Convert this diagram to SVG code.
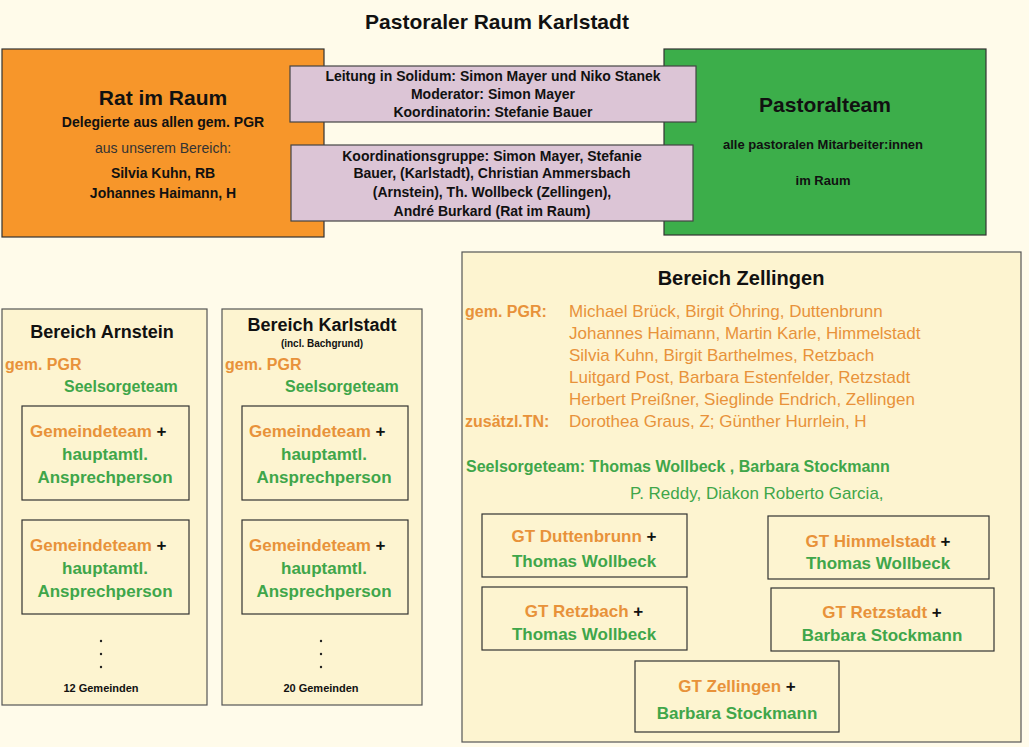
<svg xmlns="http://www.w3.org/2000/svg" width="1029" height="747" viewBox="0 0 1029 747">
<style>
text{font-family:"Liberation Sans",Arial,sans-serif;}
.b{font-weight:bold}
.o{fill:#e8923a}
.g{fill:#3fa64a}
.k{fill:#111}
.box{stroke:#333;stroke-width:1.2}
.pink{fill:#dcc5d6;stroke:#444;stroke-width:1.2}
.cream{fill:#fdf4d0;stroke:#555;stroke-width:1.2}
.in{fill:#fdf4d0;stroke:#333;stroke-width:1.2}
.dot{fill:#222}
</style>
<rect width="1029" height="747" fill="#fffbea"/>
<text x="497" y="29" text-anchor="middle" font-size="21" class="b k">Pastoraler Raum Karlstadt</text>
<g id="rat">
<rect x="2" y="49" width="322" height="188" fill="#f7962a" class="box"/>
<text x="163" y="105" text-anchor="middle" font-size="21" class="b k">Rat im Raum</text>
<text x="163" y="127" text-anchor="middle" font-size="14" class="b k">Delegierte aus allen gem. PGR</text>
<text x="163" y="153" text-anchor="middle" font-size="14" fill="#333">aus unserem Bereich:</text>
<text x="163" y="178" text-anchor="middle" font-size="14" class="b k">Silvia Kuhn, RB</text>
<text x="163" y="198" text-anchor="middle" font-size="14" class="b k">Johannes Haimann, H</text>
</g>
<g id="pastoralteam">
<rect x="664" y="49" width="322" height="186" fill="#3cae4a" class="box"/>
<text x="825" y="112" text-anchor="middle" font-size="21" class="b k">Pastoralteam</text>
<text x="823" y="149" text-anchor="middle" font-size="13" class="b k">alle pastoralen Mitarbeiter:innen</text>
<text x="823" y="185" text-anchor="middle" font-size="13" class="b k">im Raum</text>
</g>
<g id="leitung">
<rect x="290" y="66" width="406" height="56" class="pink"/>
<text x="493" y="81" text-anchor="middle" font-size="14" class="b k">Leitung in Solidum: Simon Mayer und Niko Stanek</text>
<text x="493" y="99" text-anchor="middle" font-size="14" class="b k">Moderator: Simon Mayer</text>
<text x="493" y="117" text-anchor="middle" font-size="14" class="b k">Koordinatorin:  Stefanie Bauer</text>
</g>
<g id="koordination">
<rect x="291" y="145" width="402" height="76" class="pink"/>
<text x="492" y="161" text-anchor="middle" font-size="14" class="b k">Koordinationsgruppe: Simon Mayer, Stefanie</text>
<text x="492" y="178" text-anchor="middle" font-size="14" class="b k">Bauer, (Karlstadt), Christian Ammersbach</text>
<text x="492" y="197" text-anchor="middle" font-size="14" class="b k">(Arnstein),  Th. Wollbeck (Zellingen),</text>
<text x="492" y="216" text-anchor="middle" font-size="14" class="b k">André Burkard (Rat im Raum)</text>
</g>
<g id="arnstein">
<rect x="2" y="309" width="205" height="396" class="cream"/>
<text x="102" y="338" text-anchor="middle" font-size="18" class="b k">Bereich Arnstein</text>
<text x="5" y="370" font-size="16" class="b o">gem. PGR</text>
<text x="64" y="392" font-size="16" class="b g">Seelsorgeteam</text>
<rect x="22" y="406" width="167" height="94" class="in"/>
<text x="30" y="437" font-size="17" class="b"><tspan class="o">Gemeindeteam</tspan><tspan class="k"> +</tspan></text>
<text x="105" y="460" text-anchor="middle" font-size="17" class="b g">hauptamtl.</text>
<text x="105" y="483" text-anchor="middle" font-size="17" class="b g">Ansprechperson</text>
<rect x="22" y="520" width="167" height="94" class="in"/>
<text x="30" y="551" font-size="17" class="b"><tspan class="o">Gemeindeteam</tspan><tspan class="k"> +</tspan></text>
<text x="105" y="574" text-anchor="middle" font-size="17" class="b g">hauptamtl.</text>
<text x="105" y="597" text-anchor="middle" font-size="17" class="b g">Ansprechperson</text>
<circle cx="101" cy="641" r="1.2" class="dot"/>
<circle cx="101" cy="654" r="1.2" class="dot"/>
<circle cx="101" cy="667" r="1.2" class="dot"/>
<text x="101" y="692" text-anchor="middle" font-size="11" class="b k">12 Gemeinden</text>
</g>
<g id="karlstadt">
<rect x="222" y="309" width="200" height="396" class="cream"/>
<text x="322" y="331" text-anchor="middle" font-size="18" class="b k">Bereich Karlstadt</text>
<text x="322" y="347" text-anchor="middle" font-size="10" class="b k">(incl. Bachgrund)</text>
<text x="225" y="370" font-size="16" class="b o">gem. PGR</text>
<text x="285" y="392" font-size="16" class="b g">Seelsorgeteam</text>
<rect x="242" y="406" width="166" height="94" class="in"/>
<text x="249" y="437" font-size="17" class="b"><tspan class="o">Gemeindeteam</tspan><tspan class="k"> +</tspan></text>
<text x="324" y="460" text-anchor="middle" font-size="17" class="b g">hauptamtl.</text>
<text x="324" y="483" text-anchor="middle" font-size="17" class="b g">Ansprechperson</text>
<rect x="242" y="520" width="166" height="94" class="in"/>
<text x="249" y="551" font-size="17" class="b"><tspan class="o">Gemeindeteam</tspan><tspan class="k"> +</tspan></text>
<text x="324" y="574" text-anchor="middle" font-size="17" class="b g">hauptamtl.</text>
<text x="324" y="597" text-anchor="middle" font-size="17" class="b g">Ansprechperson</text>
<circle cx="321" cy="641" r="1.2" class="dot"/>
<circle cx="321" cy="654" r="1.2" class="dot"/>
<circle cx="321" cy="667" r="1.2" class="dot"/>
<text x="321" y="692" text-anchor="middle" font-size="11" class="b k">20 Gemeinden</text>
</g>
<g id="zellingen">
<rect x="462" y="252" width="559" height="490" class="cream"/>
<text x="741" y="285" text-anchor="middle" font-size="20" class="b k">Bereich Zellingen</text>
<text x="465" y="317" font-size="16" class="b o">gem. PGR:</text>
<g font-size="17" class="o">
<text x="569" y="317">Michael Brück, Birgit Öhring, Duttenbrunn</text>
<text x="569" y="339">Johannes Haimann, Martin Karle, Himmelstadt</text>
<text x="569" y="361">Silvia Kuhn, Birgit Barthelmes, Retzbach</text>
<text x="569" y="383">Luitgard Post, Barbara Estenfelder, Retzstadt</text>
<text x="569" y="405">Herbert Preißner, Sieglinde Endrich, Zellingen</text>
<text x="569" y="427">Dorothea Graus, Z; Günther Hurrlein, H</text>
</g>
<text x="465" y="427" font-size="16" class="b o">zusätzl.TN:</text>
<text x="466" y="472" font-size="16" class="b g">Seelsorgeteam:  Thomas Wollbeck  , Barbara Stockmann</text>
<text x="630" y="499" font-size="17" class="g">P. Reddy, Diakon Roberto Garcia,</text>
</g>
<g id="gt-duttenbrunn">
<rect x="482" y="514" width="205" height="63" class="in"/>
<text x="584" y="542" text-anchor="middle" font-size="17" class="b"><tspan class="o">GT Duttenbrunn</tspan><tspan class="k"> +</tspan></text>
<text x="584" y="567" text-anchor="middle" font-size="17" class="b g">Thomas Wollbeck</text>
</g>
<g id="gt-himmelstadt">
<rect x="768" y="516" width="221" height="63" class="in"/>
<text x="878" y="547" text-anchor="middle" font-size="17" class="b"><tspan class="o">GT Himmelstadt</tspan><tspan class="k"> +</tspan></text>
<text x="878" y="569" text-anchor="middle" font-size="17" class="b g">Thomas Wollbeck</text>
</g>
<g id="gt-retzbach">
<rect x="482" y="587" width="205" height="63" class="in"/>
<text x="584" y="617" text-anchor="middle" font-size="17" class="b"><tspan class="o">GT Retzbach</tspan><tspan class="k"> +</tspan></text>
<text x="584" y="640" text-anchor="middle" font-size="17" class="b g">Thomas Wollbeck</text>
</g>
<g id="gt-retzstadt">
<rect x="771" y="588" width="223" height="63" class="in"/>
<text x="882" y="618" text-anchor="middle" font-size="17" class="b"><tspan class="o">GT Retzstadt</tspan><tspan class="k"> +</tspan></text>
<text x="882" y="641" text-anchor="middle" font-size="17" class="b g">Barbara Stockmann</text>
</g>
<g id="gt-zellingen">
<rect x="635" y="661" width="204" height="71" class="in"/>
<text x="737" y="692" text-anchor="middle" font-size="17" class="b"><tspan class="o">GT Zellingen</tspan><tspan class="k"> +</tspan></text>
<text x="737" y="719" text-anchor="middle" font-size="17" class="b g">Barbara Stockmann</text>
</g>
<g id="connectors"/>
</svg>
